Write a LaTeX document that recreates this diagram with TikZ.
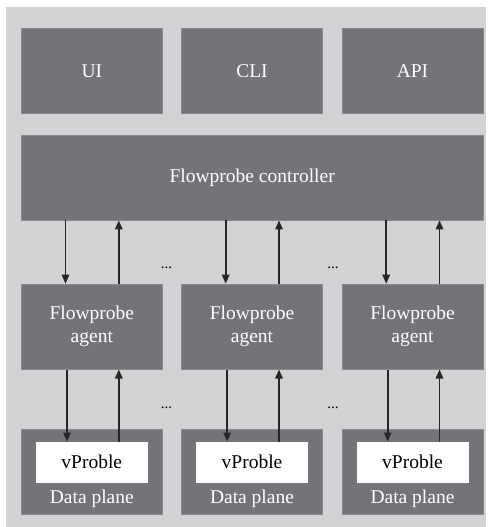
\documentclass[tikz,border=0pt]{standalone}
\usepackage{fontspec}
\setmainfont{Liberation Serif}
\usetikzlibrary{arrows.meta}
\definecolor{panelgray}{HTML}{D2D3D5}
\definecolor{boxgray}{HTML}{737478}
\begin{document}
\begin{tikzpicture}[x=1pt,y=-1pt,
  darkbox/.style={draw=boxgray!85!white,line width=0.8pt,fill=boxgray,text=white,
    font=\fontsize{19.5}{23}\selectfont,align=center,inner sep=0pt},
  probebox/.style={fill=white,text=black,font=\fontsize{19.5}{23}\selectfont,inner sep=0pt},
  planelabel/.style={text=white,font=\fontsize{19.5}{23}\selectfont,inner sep=0pt},
  dotsl/.style={font=\fontsize{15}{18}\selectfont,inner sep=0pt},
  link/.style={line width=1.6pt,draw=black!85,-{Triangle[length=9pt,width=7.5pt]}}]
\useasboundingbox (0,0) rectangle (493,527);
\fill[panelgray] (6,7) rectangle (486,527);

% top row: user interfaces
\node[darkbox,minimum width=141pt,minimum height=85pt] (ui)  at (91.8,70.8)  {UI};
\node[darkbox,minimum width=141pt,minimum height=85pt] (cli) at (252,70.8)   {CLI};
\node[darkbox,minimum width=141pt,minimum height=85pt] (api) at (412.5,70.8) {API};

% controller
\node[darkbox,minimum width=461.7pt,minimum height=85pt] (ctrl) at (252.2,177.5) {Flowprobe controller};

% agents and data planes
\foreach \i/\x in {1/91.8,2/252,3/412.5}{
  \node[darkbox,minimum width=141pt,minimum height=85pt] (ag\i) at (\x,326.6) {Flowprobe\\agent};
  \node[darkbox,minimum width=141pt,minimum height=85pt] (dp\i) at (\x,471.8) {};
  \node[probebox,minimum width=112pt,minimum height=41pt] (vp\i) at (\x,462.2) {vProble};
  \node[planelabel] (dl\i) at (\x,498.5) {Data plane};
}

% links: controller <-> agents, agents <-> probes
\foreach \i in {1,2,3}{
  \draw[link] ([xshift=-26.3pt]ctrl.south -| ag\i.north) -- ([xshift=-26.3pt]ag\i.north);
  \draw[link] ([xshift=27pt]ag\i.north) -- ([xshift=27pt]ctrl.south -| ag\i.north);
  \draw[link] ([xshift=-24.8pt]ag\i.south) -- ([xshift=-24.8pt]vp\i.north);
  \draw[link] ([xshift=27pt]vp\i.north) -- ([xshift=27pt]ag\i.south);
}

\node[dotsl] (d1) at (166.5,268) {...};
\node[dotsl] (d2) at (333,268) {...};
\node[dotsl] (d3) at (166.5,408) {...};
\node[dotsl] (d4) at (333,408) {...};
\end{tikzpicture}
\end{document}
